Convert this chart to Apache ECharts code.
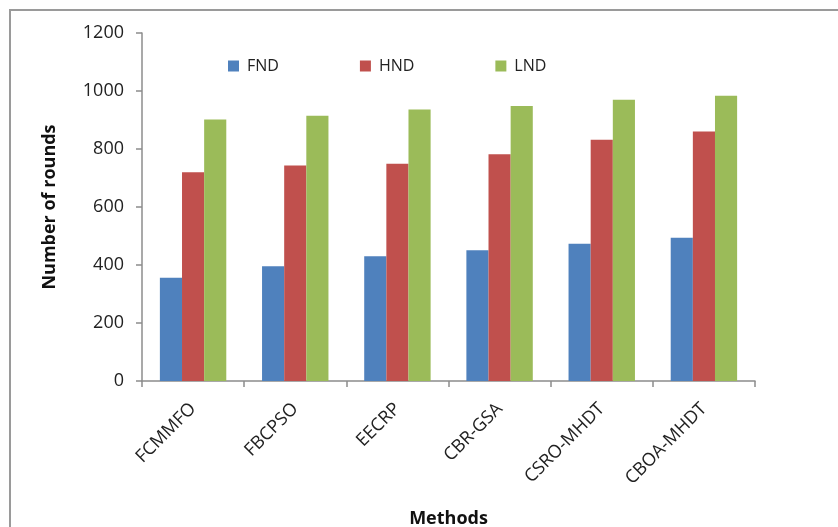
<!DOCTYPE html>
<html>
<head>
<meta charset="utf-8">
<style>
  html, body { margin: 0; padding: 0; background: #fff; }
  #chart { width: 838px; height: 527px; }
</style>
<script src="https://cdn.jsdelivr.net/npm/echarts@6/dist/echarts.min.js"></script>
</head>
<body>
<div id="chart"></div>
<script>
// Network lifetime rounds per clustering method
const methods = ['FCMMFO', 'FBCPSO', 'EECRP', 'CBR-GSA', 'CSRO-MHDT', 'CBOA-MHDT'];
const fnd = [356, 396, 430, 451, 473, 494];
const hnd = [720, 743, 749, 782, 832, 860];
const lnd = [902, 915, 936, 948, 970, 984];
const yTicks = [0, 200, 400, 600, 800, 1000, 1200];

const seriesNames = ['FND', 'HND', 'LND'];
const seriesColors = ['#4F81BD', '#C0504D', '#9BBB59'];
const seriesValues = [fnd, hnd, lnd];

const font = '"Open Sans", "Liberation Sans", sans-serif';
const axisGrey = '#8C8C8C';

const chart = echarts.init(document.getElementById('chart'), null, { renderer: 'canvas' });

chart.setOption({
  animation: false,
  backgroundColor: '#fff',
  textStyle: { fontFamily: font },
  graphic: [{
    type: 'rect',
    shape: { x: 10, y: 10, width: 840, height: 540 },
    style: { fill: 'none', stroke: '#9A9A9A', lineWidth: 2 },
    silent: true
  }],
  legend: {
    data: seriesNames,
    left: 228,
    top: 58,
    padding: 0,
    itemWidth: 11,
    itemHeight: 11,
    itemGap: 81,
    icon: 'rect',
    textStyle: { fontFamily: font, fontSize: 16, color: '#222', padding: [0, 0, 0, 3] }
  },
  grid: {
    left: 142, top: 33, width: 613, height: 348,
    containLabel: false,
    outerBoundsMode: 'none'
  },
  xAxis: {
    type: 'category',
    data: methods,
    name: 'Methods',
    nameLocation: 'middle',
    nameGap: 129,
    nameTextStyle: { fontFamily: font, fontSize: 18, fontWeight: 'bold', color: '#111' },
    axisLine: { lineStyle: { color: axisGrey, width: 1.5 } },
    axisTick: { show: true, alignWithLabel: false, length: 6, lineStyle: { color: axisGrey, width: 1.5 } },
    axisLabel: { rotate: 45, margin: 25, fontSize: 18, color: '#222', fontFamily: font },
    splitLine: { show: false }
  },
  yAxis: {
    type: 'value',
    min: yTicks[0],
    max: yTicks[yTicks.length - 1],
    interval: yTicks[1] - yTicks[0],
    name: 'Number of rounds',
    nameLocation: 'middle',
    nameGap: 83,
    nameRotate: 90,
    nameTextStyle: { fontFamily: font, fontSize: 18, fontWeight: 'bold', color: '#111' },
    axisLine: { show: true, lineStyle: { color: axisGrey, width: 1.5 } },
    axisTick: { show: true, length: 6, lineStyle: { color: axisGrey, width: 1.5 } },
    axisLabel: { margin: 18, fontSize: 18, color: '#222', fontFamily: font, formatter: v => String(v) },
    splitLine: { show: false }
  },
  series: seriesNames.map((name, i) => ({
    name: name,
    type: 'bar',
    data: seriesValues[i],
    barGap: '0%',
    barCategoryGap: '35%',
    itemStyle: { color: seriesColors[i] }
  }))
});
</script>
</body>
</html>
